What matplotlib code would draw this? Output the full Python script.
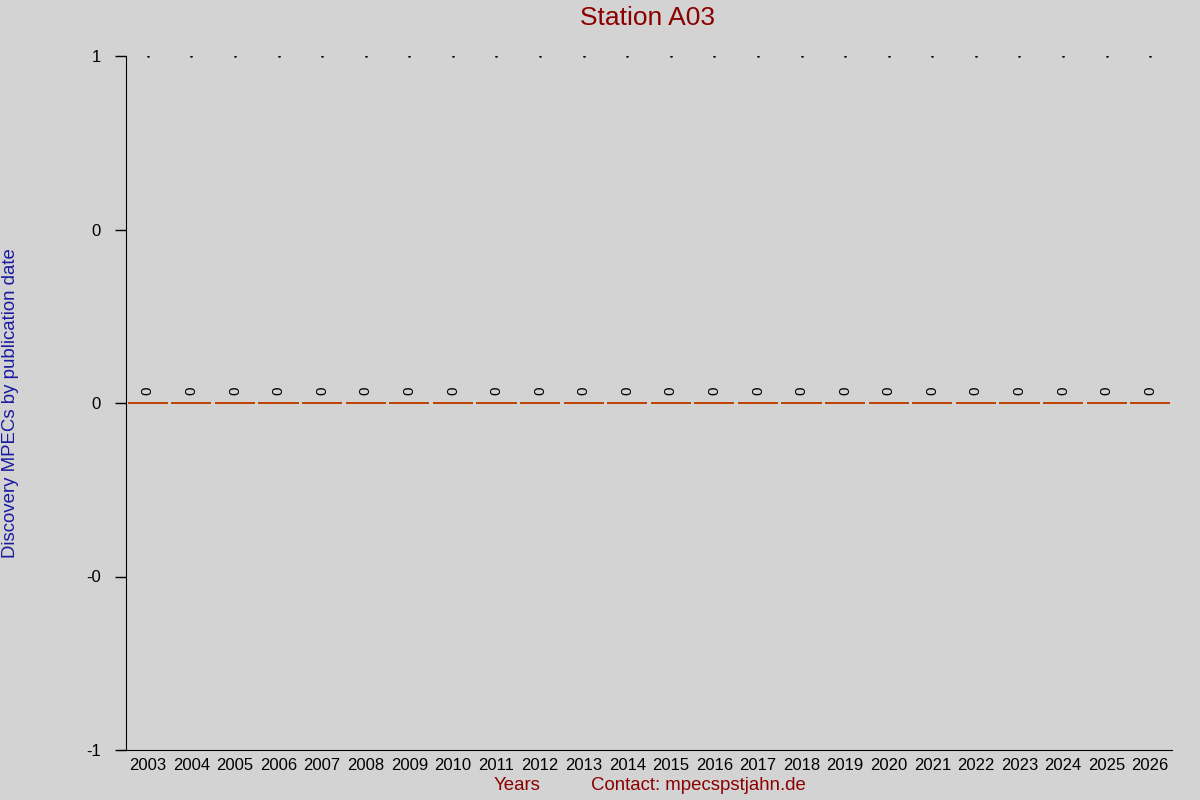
import numpy as np
from matplotlib import pyplot as plt

plt.rcParams["font.family"] = ["Liberation Sans", "DejaVu Sans"]

years = [str(y) for y in range(2003, 2027)]
counts = [0] * len(years)
ytick_vals = [-1, -0.5, 0, 0.5, 1]
ytick_labels = ["-1", "-0", "0", "0", "1"]

bg = "#d3d3d3"
fig = plt.figure(figsize=(12, 8), dpi=100, facecolor=bg)
ax = fig.add_axes([126 / 1200, 50 / 800, 1046 / 1200, 694 / 800], facecolor=bg)

x = np.arange(len(years))
ax.bar(x, counts, width=0.92, color="#c04000", edgecolor="#c04000", linewidth=1.4)
# tiny markers along the top
ax.plot(x, [1] * len(x), linestyle="none", marker="s", markersize=0.8, color="black")
for xi, c in zip(x, counts):
    ax.text(xi, c + 0.035, str(c), rotation=90, ha="center", va="center", fontsize=11)

ax.set_xlim(-0.5, len(years) - 0.5)
ax.set_ylim(-1, 1)
ax.set_xticks(x)
ax.set_xticklabels(years, fontsize=12)
ax.set_yticks(ytick_vals)
ax.set_yticklabels(ytick_labels, fontsize=12)
ax.tick_params(axis="x", length=0, pad=6)
ax.tick_params(axis="y", length=8, width=1, pad=10)
for s in ["top", "right"]:
    ax.spines[s].set_visible(False)
ax.spines["bottom"].set_bounds(-0.68, len(years) - 0.5)

fig.text(648 / 1200, 1 - 18 / 800, "Station A03", color="#8b0000", fontsize=19,
         ha="center", va="center")
fig.text(11 / 1200, 0.5 - 3 / 800, "Discovery MPECs by publication date", color="#1a1aa0",
         fontsize=13.4, rotation=90, ha="center", va="center")
fig.text(517 / 1200, 1 - 786 / 800, "Years", color="#8b0000", fontsize=13.4,
         ha="center", va="center")
fig.text(591 / 1200, 1 - 786 / 800, "Contact: mpecspstjahn.de", color="#8b0000",
         fontsize=13.4, ha="left", va="center")

fig.savefig("out.png", dpi=100, facecolor=bg)
